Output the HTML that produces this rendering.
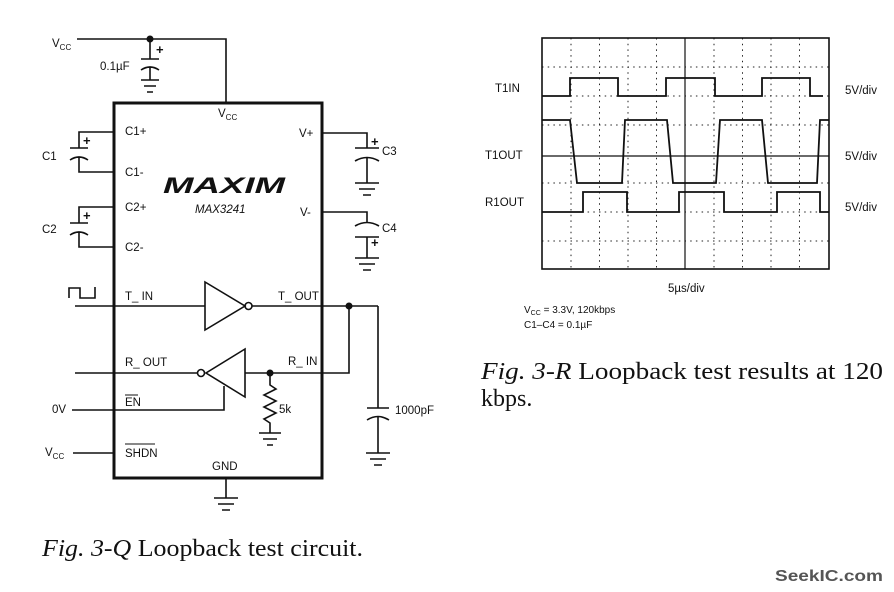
<!DOCTYPE html>
<html><head><meta charset="utf-8"><style>
html,body{margin:0;padding:0;background:#fff;}
svg{display:block;}
.s{font-family:"Liberation Sans",Arial,sans-serif;font-size:11.5px;fill:#111;}
.c{font-family:"Liberation Serif",serif;font-size:24px;fill:#111;}
</style></head><body>
<svg width="894" height="592" viewBox="0 0 894 592" xmlns="http://www.w3.org/2000/svg">
<g stroke="#111" stroke-width="1.6" fill="none">
<rect x="114" y="103" width="208" height="375" stroke-width="3"/>
<path d="M77 39H226V103"/>
<path d="M150 39V59M141 59H159M141 70Q150 64 159 70M150 67V80M141 80H159M144 86H156M147 92H153"/>
<path d="M114 132H79V148M70 148H88M70 160Q79 154 88 160M79 157V172H114"/>
<path d="M114 207H79V223M70 223H88M70 235Q79 229 88 235M79 232V247H114"/>
<path d="M322 133H367V148M355 148H379M355 161Q367 154 379 161M367 157V183M355 183H379M359 189H375M363 195H371"/>
<path d="M322 212H367V223M355 226Q367 219 379 226M355 237H379M367 237V258M355 258H379M359 264H375M363 270H371"/>
<path d="M75 306H205M205 282V330L245 306Z"/>
<circle cx="248.5" cy="306" r="3.5"/>
<path d="M252 306H378M349 306V373H245"/>
<path d="M69 298V288H80V298H95V287"/>
<path d="M245 349V397L206 373Z"/>
<circle cx="201" cy="373" r="3.5"/>
<path d="M75 373H197M72 410H224V386"/>
<path d="M270 373V385L276 389L264 395L276 401L264 407L276 413L264 419L270 423V433M259 433H281M263 439H277M267 445H273"/>
<path d="M73 453H114"/>
<path d="M378 306V408M367 408H389M367 420Q378 413 389 420M378 416V453M366 453H390M370 459H386M374 465H382"/>
<path d="M226 478V498M214 498H238M218 504H234M222 510H230"/>
</g>
<g fill="#111">
<circle cx="150" cy="39" r="3.5"/><circle cx="349" cy="306" r="3.5"/><circle cx="270" cy="373" r="3.5"/>
</g>
<g class="s">
<text x="52" y="47">V<tspan font-size="8" dy="3">CC</tspan></text>
<text x="100" y="70">0.1µF</text>
<text x="156" y="54" font-size="13" font-weight="bold">+</text>
<text x="83" y="145" font-size="13" font-weight="bold">+</text>
<text x="83" y="220" font-size="13" font-weight="bold">+</text>
<text x="371" y="146" font-size="13" font-weight="bold">+</text>
<text x="371" y="247" font-size="13" font-weight="bold">+</text>
<text x="218" y="117">V<tspan font-size="8" dy="3">CC</tspan></text>
<text x="125" y="135">C1+</text><text x="125" y="176">C1-</text>
<text x="125" y="211">C2+</text><text x="125" y="251">C2-</text>
<text x="42" y="160">C1</text><text x="42" y="233">C2</text>
<text x="299" y="137">V+</text><text x="300" y="216">V-</text>
<text x="382" y="155">C3</text><text x="382" y="232">C4</text>
<text x="163" y="193" font-size="22" font-weight="bold" font-style="italic" textLength="122" lengthAdjust="spacingAndGlyphs">MAXIM</text>
<text x="195" y="213" font-style="italic">MAX3241</text>
<text x="125" y="300">T_ IN</text><text x="278" y="300">T_ OUT</text>
<text x="125" y="366">R_ OUT</text><text x="288" y="365">R_ IN</text>
<text x="125" y="406">EN</text>
<path d="M125 395H138M125 444H155" stroke="#111" stroke-width="1"/>
<text x="52" y="413">0V</text>
<text x="45" y="456">V<tspan font-size="8" dy="3">CC</tspan></text>
<text x="125" y="457">SHDN</text>
<text x="212" y="470">GND</text>
<text x="279" y="413">5k</text>
<text x="395" y="414">1000pF</text>
</g>
<g stroke="#222" stroke-width="1" stroke-dasharray="1.5 4.2" fill="none">
<path d="M571 38V269M599.5 38V269M628 38V269M656.5 38V269M714 38V269M742.5 38V269M771 38V269M799.5 38V269"/>
<path d="M542 67H829M542 96H829M542 125H829M542 183H829M542 212H829M542 241H829"/>
</g>
<g stroke="#111" fill="none">
<rect x="542" y="38" width="287" height="231" stroke-width="1.6"/>
<path d="M685 38V269M542 156H829" stroke-width="1.2"/>
<path d="M542 96H570V78H618V96H666V78H715V96H762V78H810V96H823" stroke-width="1.8"/>
<path d="M542 120H570L577 183H622L625 120H667L673 183H716L720 120H762L768 183H817L820 120H829" stroke-width="1.8"/>
<path d="M542 212H583V192H627V212H679V192H724V212H777V192H820V212H829" stroke-width="1.8"/>
</g>
<g class="s">
<text x="495" y="92">T1IN</text>
<text x="485" y="159">T1OUT</text>
<text x="485" y="206">R1OUT</text>
<text x="845" y="94">5V/div</text><text x="845" y="160">5V/div</text><text x="845" y="211">5V/div</text>
<text x="668" y="292">5µs/div</text>
<text x="524" y="313" font-size="10">V<tspan font-size="7" dy="2">CC</tspan><tspan dy="-2"> = 3.3V, 120kbps</tspan></text>
<text x="524" y="328" font-size="10">C1–C4 = 0.1µF</text>
</g>
<text class="c" x="42" y="556" textLength="321" lengthAdjust="spacingAndGlyphs"><tspan font-style="italic">Fig. 3-Q</tspan>  Loopback test circuit.</text>
<text class="c" x="481" y="379" textLength="402" lengthAdjust="spacingAndGlyphs"><tspan font-style="italic">Fig. 3-R</tspan>  Loopback test results at 120</text>
<text class="c" x="481" y="406">kbps.</text>
<text x="775" y="581" font-family="Liberation Sans,sans-serif" font-size="16" font-weight="bold" fill="#555" textLength="108" lengthAdjust="spacingAndGlyphs">SeekIC.com</text>
</svg>
</body></html>
